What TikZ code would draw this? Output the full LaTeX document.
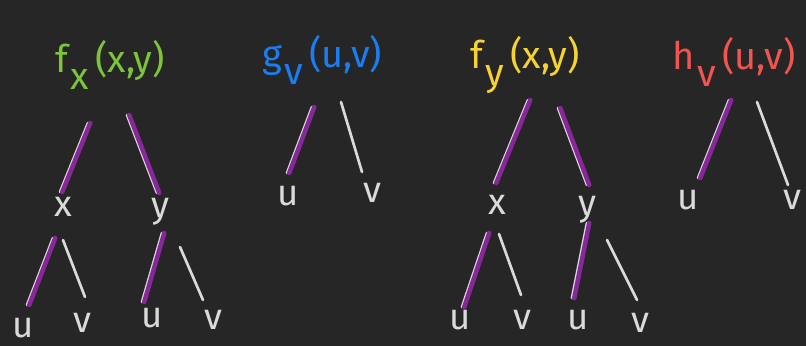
\documentclass[tikz,border=0pt]{standalone}
\usepackage{fontspec}
\setmainfont{Fira Sans}
\usepackage{tikz}
\usetikzlibrary{positioning}
\definecolor{boardbg}{HTML}{262626}
\definecolor{chalk}{HTML}{DADADA}
\definecolor{pathpurple}{HTML}{87279A}
\definecolor{fxgreen}{HTML}{7CC43A}
\definecolor{gvblue}{HTML}{1A7EF2}
\definecolor{fyyellow}{HTML}{F7D234}
\definecolor{hvred}{HTML}{F05550}
\newcommand{\sub}[1]{\kern0.06em\raisebox{-0.45em}{#1}\,}

\begin{document}
\begin{tikzpicture}[
  x=0.025cm, y=-0.025cm,
  title/.style={inner sep=0pt, font=\fontsize{27}{29}\selectfont},
  var/.style={inner sep=0pt, text=chalk, font=\fontsize{26}{28}\selectfont},
  wire/.style={draw=chalk, line width=1.9pt, line cap=round},
  chain/.style={wire, postaction={draw=pathpurple, line width=3.2pt,
                transform canvas={xshift=1.6pt}}}
]
  \fill[boardbg] (0,0) rectangle (806,346);
  \useasboundingbox (0,0) rectangle (806,346);

  % first tree: f_x
  \node[title, text=fxgreen] (fx) at (110,65) {f\sub{x}(x,y)};
  \node[var] (x1) at (63,207) {x};
  \node[var] (y1) at (160,212) {y};
  \node[var] (u1) at (23,328) {u};
  \node[var] (v1) at (82,323) {v};
  \node[var] (u2) at (152,318) {u};
  \node[var] (v2) at (213,320) {v};
  \draw[chain] ([shift={(-22,58)}]fx.center) -- ([shift={(-3,-15)}]x1.center);
  \draw[chain] ([shift={(17,50)}]fx.center) -- ([shift={(-3,-19)}]y1.center);
  \draw[chain] ([shift={(-10,31)}]x1.center) -- ([shift={(4,-23)}]u1.center);
  \draw[wire] ([shift={(0,33)}]x1.center) -- ([shift={(3,-26)}]v1.center);
  \draw[chain] ([shift={(2,21)}]y1.center) -- ([shift={(-10,-16)}]u2.center);
  \draw[wire] ([shift={(20,35)}]y1.center) -- ([shift={(-10,-20)}]v2.center);

  % second tree: g_v
  \node[title, text=gvblue] (gv) at (322,60) {g\sub{v}(u,v)};
  \node[var] (u3) at (288,196) {u};
  \node[var] (v3) at (372,193) {v};
  \draw[chain] ([shift={(-10,47)}]gv.center) -- ([shift={(-1,-23)}]u3.center);
  \draw[wire] ([shift={(19,42)}]gv.center) -- ([shift={(-10,-21)}]v3.center);

  % third tree: f_y
  \node[title, text=fyyellow] (fy) at (525,65) {f\sub{y}(x,y)};
  \node[var] (x3) at (497,205) {x};
  \node[var] (y3) at (587,210) {y};
  \node[var] (u4) at (460,320) {u};
  \node[var] (v4) at (522,320) {v};
  \node[var] (u5) at (578,320) {u};
  \node[var] (v5) at (640,323) {v};
  \draw[chain] ([shift={(3,35)}]fy.center) -- ([shift={(-3,-22)}]x3.center);
  \draw[chain] ([shift={(33,43)}]fy.center) -- ([shift={(0,-25)}]y3.center);
  \draw[chain] ([shift={(-10,28)}]x3.center) -- ([shift={(2,-13)}]u4.center);
  \draw[wire] ([shift={(2,29)}]x3.center) -- ([shift={(-1,-25)}]v4.center);
  \draw[chain] ([shift={(0,13)}]y3.center) -- ([shift={(-6,-22)}]u5.center);
  \draw[wire] ([shift={(20,30)}]y3.center) -- ([shift={(-3,-23)}]v5.center);

  % fourth tree: h_v
  \node[title, text=hvred] (hv) at (734,62) {h\sub{v}(u,v)};
  \node[var] (u6) at (688,200) {u};
  \node[var] (v6) at (792,200) {v};
  \draw[chain] ([shift={(-5,38)}]hv.center) -- ([shift={(10,-22)}]u6.center);
  \draw[wire] ([shift={(23,40)}]hv.center) -- ([shift={(-4,-15)}]v6.center);
\end{tikzpicture}
\end{document}
